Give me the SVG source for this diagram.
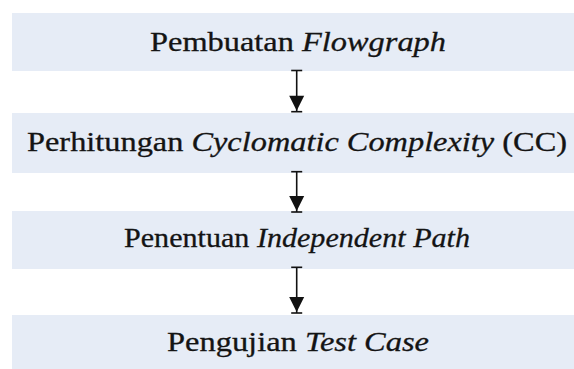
<svg xmlns="http://www.w3.org/2000/svg" width="574" height="369" viewBox="0 0 574 369">
  <style>
    .box { fill: #E6ECF6; }
    .lbl { font-family: "Liberation Serif", "Times New Roman", serif; font-size: 27px; fill: #141414; stroke: #141414; stroke-width: 0.3; text-anchor: middle; }
    .it { font-style: italic; }
    .conn { stroke: #111; stroke-width: 1.6; fill: none; marker-start: url(#bar); marker-end: url(#head); }
  </style>
  <defs>
    <marker id="bar" markerUnits="userSpaceOnUse" orient="auto" overflow="visible" refX="0" refY="0" markerWidth="1" markerHeight="1">
      <path d="M0,-5.5 L0,5.5" stroke="#111" stroke-width="1.6"/>
    </marker>
    <marker id="head" markerUnits="userSpaceOnUse" orient="auto" overflow="visible" refX="0" refY="0" markerWidth="1" markerHeight="1">
      <path d="M-16,-7.5 L-1,0 L-16,7.5 Z" fill="#111"/>
      <path d="M0,-5.5 L0,5.5" stroke="#111" stroke-width="1.6"/>
    </marker>
  </defs>
  <rect width="574" height="369" fill="#ffffff"/>
  <g id="node1">
    <rect class="box" x="12" y="13" width="562" height="58"/>
    <text class="lbl" x="298" y="51" textLength="296" lengthAdjust="spacingAndGlyphs">Pembuatan <tspan class="it">Flowgraph</tspan></text>
  </g>
  <g id="node2">
    <rect class="box" x="12" y="113" width="562" height="60"/>
    <text class="lbl" x="297" y="151" textLength="540" lengthAdjust="spacingAndGlyphs">Perhitungan <tspan class="it">Cyclomatic Complexity</tspan> (CC)</text>
  </g>
  <g id="node3">
    <rect class="box" x="12" y="211" width="562" height="58"/>
    <text class="lbl" x="297" y="247" textLength="346" lengthAdjust="spacingAndGlyphs">Penentuan <tspan class="it">Independent Path</tspan></text>
  </g>
  <g id="node4">
    <rect class="box" x="12" y="315" width="562" height="54"/>
    <text class="lbl" x="298" y="351" textLength="262" lengthAdjust="spacingAndGlyphs">Pengujian <tspan class="it">Test Case</tspan></text>
  </g>
  <g id="connectors">
    <path class="conn" d="M296.7,70.5 L296.7,111.7"/>
    <path class="conn" d="M296.7,171.7 L296.7,212"/>
    <path class="conn" d="M296.7,267.3 L296.7,313"/>
  </g>
</svg>
